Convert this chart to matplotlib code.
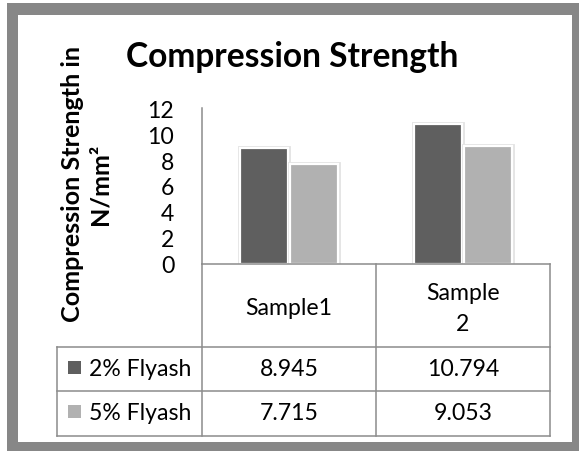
import matplotlib
matplotlib.use("Agg")
import numpy as np
import matplotlib.pyplot as plt
from matplotlib.patches import Rectangle
from matplotlib.lines import Line2D
import matplotlib.patheffects as pe
from matplotlib.transforms import blended_transform_factory

# ---- data ----
categories = ["Sample1", "Sample\n2"]
series_names = ["2% Flyash", "5% Flyash"]
flyash_2 = [8.945, 10.794]
flyash_5 = [7.715, 9.053]
y_ticks = [0, 2, 4, 6, 8, 10, 12]
title = "Compression Strength"
y_label = "Compression Strength in\nN/mm²"

# ---- style ----
W, H = 579, 452
FONT = "Lato"
DARK = "#5f5f5f"
LIGHT = "#b1b1b1"
FRAME = "#878787"
LINE = "#8c8c8c"

fig = plt.figure(figsize=(W / 100, H / 100), dpi=100)
renderer = fig.canvas.get_renderer()


def fit(txt, target, weight="normal"):
    t = fig.text(0, 0, txt, fontsize=10, family=FONT, weight=weight)
    w = t.get_window_extent(renderer).width
    t.remove()
    return 10 * target / w


fs_title = fit(title, 333, "bold")
fs_ylab = fit(y_label.split("\n")[0], 276, "bold")
fs_body = fit("10.794", 72)

# background frame
bg = fig.add_axes([0, 0, 1, 1], zorder=-1)
bg.set_xlim(0, W)
bg.set_ylim(H, 0)
bg.axis("off")
bg.add_patch(Rectangle((7, 4), W - 7, H - 4, facecolor=FRAME, edgecolor="none"))
bg.add_patch(Rectangle((18, 16), 572 - 18, 443 - 16, facecolor="white", edgecolor="none"))

# main plot axes
ax = fig.add_axes([202 / W, 1 - 265 / H, 348 / W, 156 / H])
ax.patch.set_alpha(0)
x = np.arange(len(categories))
bw = 0.28
off = 0.143
effects = [pe.Stroke(linewidth=3.5, foreground="#e4e4e4"), pe.Normal()]
ax.bar(x - off, flyash_2, bw, color=DARK, edgecolor="white", linewidth=1.6,
       path_effects=effects)
ax.bar(x + off, flyash_5, bw, color=LIGHT, edgecolor="white", linewidth=1.6,
       path_effects=effects)
ax.set_xlim(-0.5, len(categories) - 0.5)
ax.set_ylim(0, 12)
ax.set_yticks(y_ticks)
ax.set_xticks([])
for s in ["top", "right", "bottom"]:
    ax.spines[s].set_visible(False)
ax.spines["left"].set_color(LINE)
ax.spines["left"].set_linewidth(1.1)
ax.tick_params(axis="y", length=0, pad=20, labelsize=fs_body, labelcolor="black")
for lab in ax.get_yticklabels():
    lab.set_family(FONT)

# overlay for table and text
ov = fig.add_axes([0, 0, 1, 1], zorder=3)
ov.set_xlim(0, W)
ov.set_ylim(H, 0)
ov.axis("off")
ov.patch.set_alpha(0)

lw = 1.1
# horizontal lines
ov.add_line(Line2D([202, 550], [265, 265], color=LINE, lw=lw))
for yy in [348, 392, 437]:
    ov.add_line(Line2D([57, 550], [yy, yy], color=LINE, lw=lw))
# vertical lines
for xx in [202, 376, 550]:
    ov.add_line(Line2D([xx, xx], [265, 437], color=LINE, lw=lw))
ov.add_line(Line2D([57, 57], [348, 437], color=LINE, lw=lw))

colx = blended_transform_factory(ax.transData, ov.transData)
em_px = fs_body * 100 / 72
for i, cat in enumerate(categories):
    ov.text(x[i], 309, cat, transform=colx, ha="center", va="center",
            fontsize=fs_body, family=FONT, linespacing=33 / em_px * 1.1)

row_y = [370, 414]
series = [flyash_2, flyash_5]
colors = [DARK, LIGHT]
for r in range(2):
    for i in range(len(categories)):
        ov.text(x[i], row_y[r], f"{series[r][i]:g}",
                transform=colx, ha="center", va="center", fontsize=fs_body, family=FONT)
    ov.add_patch(Rectangle((68, row_y[r] - 8), 13, 13, facecolor=colors[r], edgecolor="none"))
    ov.text(89, row_y[r], series_names[r], ha="left", va="center", fontsize=fs_body, family=FONT)

# title
ov.text(292.5, 67, title, ha="center", va="baseline", fontsize=fs_title,
        family=FONT, weight="bold")
# y label
ov.text(86, 184, y_label, ha="center", va="center", rotation=90, fontsize=fs_ylab,
        family=FONT, weight="bold", linespacing=1.25, multialignment="center")

fig.savefig("out.png", dpi=100)
